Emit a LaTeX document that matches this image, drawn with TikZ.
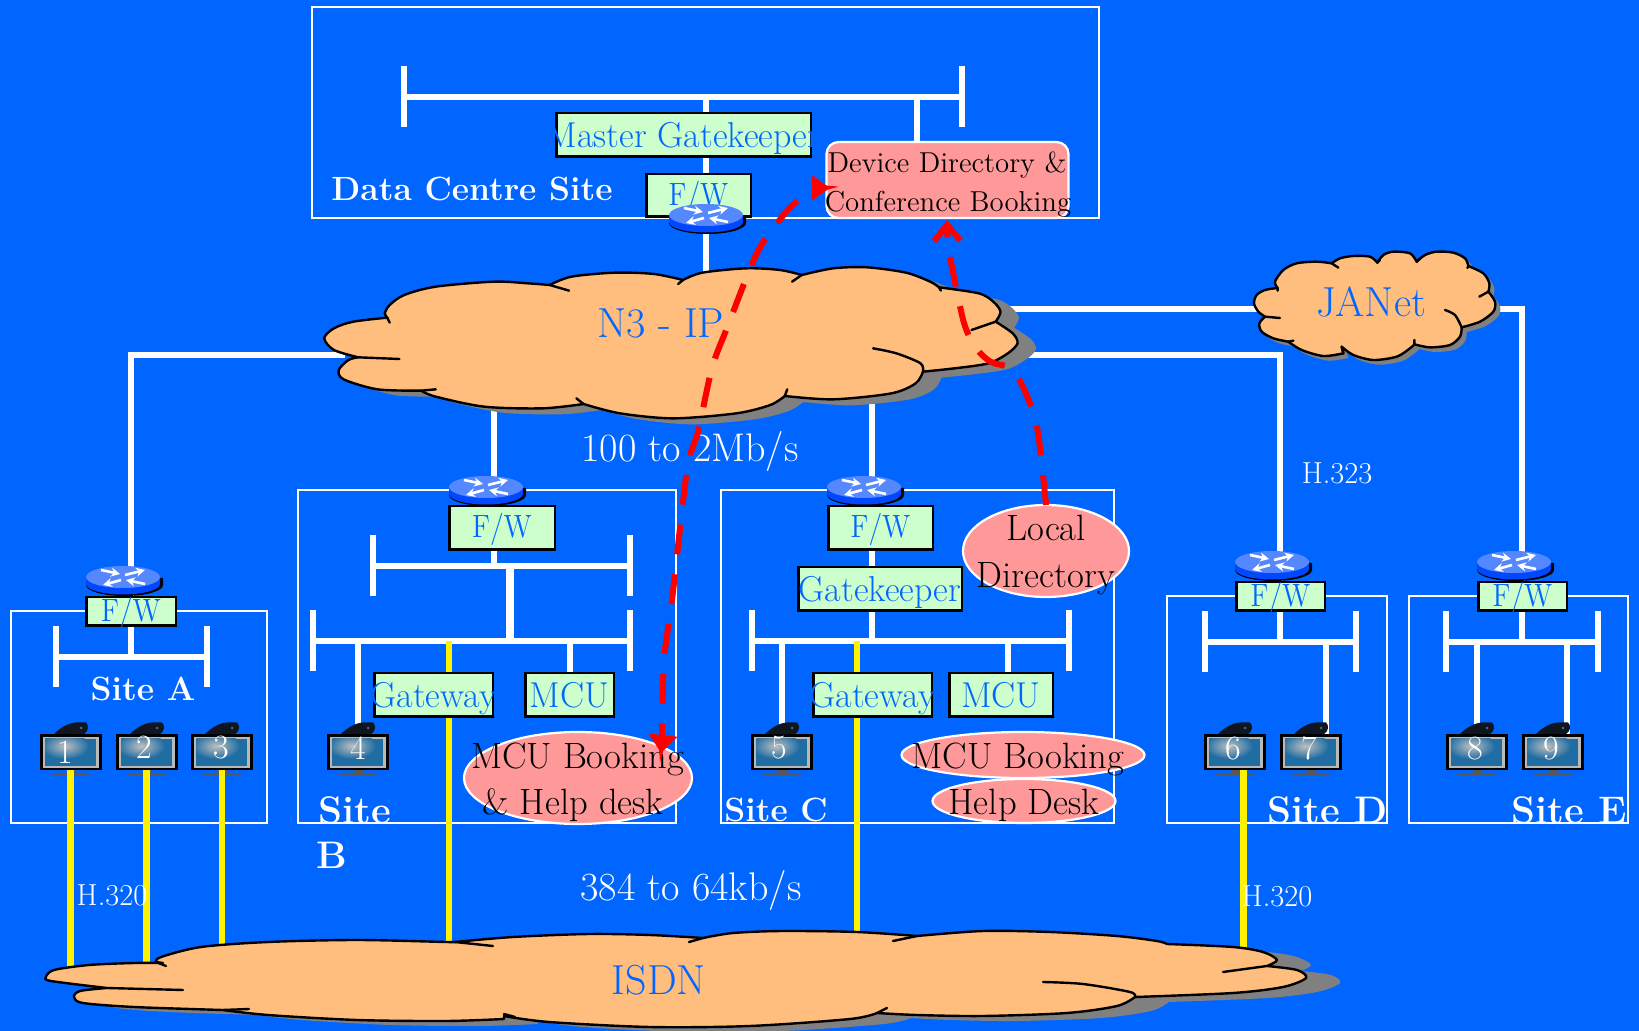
\documentclass[tikz,border=0pt]{standalone}
\usepackage{fontspec}
\usetikzlibrary{arrows.meta,shapes.geometric}
\pgfdeclarelayer{bg}
\pgfsetlayers{bg,main}
\definecolor{bgblue}{HTML}{0066FF}
\definecolor{boxgreen}{HTML}{CCFFCC}
\definecolor{pinkfill}{HTML}{FF9999}
\definecolor{cloudfill}{HTML}{FFBE7D}
\definecolor{shadowgray}{HTML}{808080}
\definecolor{rtop}{HTML}{5588FF}
\definecolor{rbody}{HTML}{0048FF}
\definecolor{screen}{HTML}{1F6DA3}
\definecolor{camdark}{HTML}{10161F}
\tikzset{
  frame/.style={draw=white,line width=1.15pt},
  wire/.style={draw=white,line width=3.3pt},
  yel/.style={draw=yellow,line width=3.5pt},
  greenbox/.style={draw=black,line width=1.25pt,fill=boxgreen,inner sep=0pt},
  pinkshape/.style={draw=white,line width=1.1pt,fill=pinkfill,inner sep=0pt},
  bluetext/.style={text=bgblue,inner sep=0pt,font=\fontsize{18}{21}\selectfont},
  fwtext/.style={text=bgblue,inner sep=0pt,font=\fontsize{14}{17}\selectfont},
  blacktext/.style={text=black,inner sep=0pt,font=\fontsize{18.3}{21}\selectfont},
  smalltext/.style={text=black,inner sep=0pt,font=\fontsize{14.4}{17}\selectfont},
  sitetext/.style={text=white,inner sep=0pt,font=\bfseries\fontsize{16.8}{20}\selectfont},
  bigsitetext/.style={text=white,inner sep=0pt,font=\bfseries\fontsize{19.2}{22}\selectfont},
  whitetext/.style={text=white,inner sep=0pt,font=\fontsize{20}{23}\selectfont},
  tinytext/.style={text=white,inner sep=0pt,font=\fontsize{15.2}{18}\selectfont},
  digittext/.style={text=white,inner sep=0pt,font=\fontsize{17}{20}\selectfont},
  cloudtext/.style={text=bgblue,inner sep=0pt,font=\fontsize{21}{25}\selectfont},
  cloudline/.style={draw=black,line width=1.2pt,line join=round,line cap=round},
  redpath/.style={draw=red,line width=3pt,dash pattern=on 15pt off 10pt},
}
\newcommand\ct[1]{\vphantom{H}\smash{#1}}
\newcommand\fwlabel{\scalebox{1}[1.15]{F/W}}
\newcommand\boxn[7][bluetext]{%
  \pgfmathsetmacro\bw{(#5-#3)/2-1.25}\pgfmathsetmacro\bh{(#6-#4)/2-1.25}%
  \node[greenbox,minimum width=\bw pt,minimum height=\bh pt] (#2) at ({(#3+#5)/2},{(#4+#6)/2}) {};%
  \node[#1] (#2t) at (#2) {\ct{#7}};}
\newcommand\busbar[4]{%
  \coordinate (#1) at (#2,#4);
  \begin{pgfonlayer}{bg}
  \draw[wire] (#2,#4) -- (#3,#4);
  \draw[wire] (#2,#4-30.5) -- (#2,#4+30.5);
  \draw[wire] (#3,#4-30.5) -- (#3,#4+30.5);
  \end{pgfonlayer}}
\newcommand\routerbody[3]{% name cx top
  \node[inner sep=0pt,minimum width=37pt,minimum height=14pt] (#1) at (#2,#3+14) {};
  \begin{scope}[shift={(#2,#3+11)}]
    \fill[black] (-37,1) -- (-37,8) arc[start angle=180,end angle=0,x radius=38.5,y radius=11] -- (40,1) -- cycle;
    \fill[rbody] (-37,0) -- (-37,7) arc[start angle=180,end angle=0,x radius=37,y radius=10.5] -- (37,0) -- cycle;
    \fill[rtop] (0,0) ellipse[x radius=37,y radius=11];
    \draw[white,line width=1.3pt,-{Stealth[length=4.5pt,width=4.5pt]}] (-22,-7) -- (-3,-3);
    \draw[white,line width=1.3pt,-{Stealth[length=4.5pt,width=4.5pt]}] (2,-2) -- (22,-7);
    \draw[white,line width=1.3pt,-{Stealth[length=4.5pt,width=4.5pt]}] (-2,3) -- (-20,8);
    \draw[white,line width=1.3pt,-{Stealth[length=4.5pt,width=4.5pt]}] (22,7) -- (3,3);
  \end{scope}}
\newcommand\monitorn[5]{% name left digitx digity digit
  \begin{scope}[shift={(#2,734)}]
    \fill[camdark] (14,0) .. controls (20,-6) and (28,-11) .. (36,-11.5) -- (46,-11.5) .. controls (49,-9) and (49,-3) .. (44,0) -- cycle;
    \fill[black!60!cyan] (41,-6) circle[radius=1.5];
    \fill[gray!70!black] (27,36) rectangle (36,40);
    \fill[gray!70!black] (31,40) ellipse[x radius=21,y radius=1.3];
    \fill[black] (0,0) rectangle (62,36);
    \fill[gray!55] (3,3) rectangle (59,33.5);
    \fill[screen] (5,4.5) rectangle (56,32);
    \begin{scope}
      \clip (5,4.5) rectangle (56,32);
      \shade[inner color=gray!50!white,outer color=screen] (25,12) ellipse[x radius=24,y radius=13];
    \end{scope}
    \node[inner sep=0pt,minimum width=31pt,minimum height=18pt] (#1) at (31,18) {};
  \end{scope}
  \node[digittext] (#1d) at (#3,#4) {\ct{#5}};}
\begin{document}
\begin{tikzpicture}[x=0.5pt,y=-0.5pt]
\useasboundingbox (0,0) rectangle (1639,1031);
\begin{pgfonlayer}{bg}
\fill[bgblue] (0,0) rectangle (1639,1031);
% site frames
\draw[frame] (312,7) rectangle (1099,218);
\draw[frame] (11,611) rectangle (267,823);
\draw[frame] (298,490) rectangle (676,823);
\draw[frame] (721,490) rectangle (1114,823);
\draw[frame] (1167,596) rectangle (1387,823);
\draw[frame] (1409,596) rectangle (1628,823);
\end{pgfonlayer}
% x positions of vertical wires
\coordinate (xA) at (131,0);
\coordinate (xB) at (494,0);
\coordinate (xBb) at (510,0);
\coordinate (xBc) at (358,0);
\coordinate (xBd) at (570,0);
\coordinate (xC) at (872,0);
\coordinate (xCc) at (782,0);
\coordinate (xCd) at (1008,0);
\coordinate (xD) at (1280,0);
\coordinate (xDd) at (1326,0);
\coordinate (xE) at (1522,0);
\coordinate (xEc) at (1477,0);
\coordinate (xEd) at (1567,0);
\coordinate (xM) at (706,0);
\coordinate (xMd) at (917,0);
\coordinate (n3w) at (345,355);
\coordinate (n3e) at (1000,355);
\coordinate (n3n) at (706,280);
\coordinate (n3s) at (494,400);
\coordinate (n3t) at (872,400);
\coordinate (n3j) at (1000,309);
\coordinate (janw) at (1270,309);
\coordinate (jane) at (1490,309);
\coordinate (isdnY) at (0,975);
% buses
\busbar{busM}{404}{962}{97}
\busbar{busA}{56}{207}{657}
\busbar{busB}{373}{630}{566}
\busbar{busBb}{313}{630}{641}
\busbar{busC}{752}{1069}{641}
\busbar{busD}{1205}{1356}{642}
\busbar{busE}{1446}{1598}{642}
% monitors
\monitorn{mon1}{40}{65}{752}{1}
\monitorn{mon2}{116}{144}{747}{2}
\monitorn{mon3}{191}{221}{747}{3}
\monitorn{mon4}{327}{358}{748}{4}
\monitorn{mon5}{751}{779}{747}{5}
\monitorn{mon6}{1204}{1233}{748}{6}
\monitorn{mon7}{1280}{1309}{748}{7}
\monitorn{mon8}{1446}{1475}{748}{8}
\monitorn{mon9}{1522}{1551}{748}{9}
% yellow ISDN lines
\coordinate (y1) at (70,770);
\coordinate (y2) at (146,770);
\coordinate (y3) at (222,770);
\coordinate (y4) at (449,641);
\coordinate (y5) at (857,641);
\coordinate (y6) at (1243,770);
\draw[yel] (y1) -- (y1 |- isdnY);
\draw[yel] (y2) -- (y2 |- isdnY);
\draw[yel,line width=2.8pt] (y3) -- (y3 |- isdnY);
\draw[yel,line width=3pt] (y4) -- (y4 |- isdnY);
\draw[yel,line width=3pt] (y5) -- (y5 |- isdnY);
\draw[yel] (y6) -- (y6 |- isdnY);
% routers below the firewalls
\routerbody{rtA}{123}{566}
\routerbody{rtB}{486}{476}
\routerbody{rtC}{864}{476}
\routerbody{rtD}{1272}{551}
\routerbody{rtE}{1514}{551}
% boxes
\boxn[fwtext]{fwA}{85}{596}{177}{627}{\fwlabel}
\boxn[fwtext]{fwB}{448}{505}{556}{551}{\fwlabel}
\boxn[fwtext]{fwC}{827}{505}{934}{551}{\fwlabel}
\boxn[fwtext]{fwD}{1235}{581}{1326}{612}{\fwlabel}
\boxn[fwtext]{fwE}{1477}{581}{1568}{612}{\fwlabel}
\boxn{gwB}{373}{672}{494}{718}{Gateway}
\boxn{mcuB}{524}{672}{615}{718}{MCU}
\boxn{gwC}{812}{672}{933}{718}{Gateway}
\boxn{mcuC}{948}{672}{1054}{718}{MCU}
\boxn{gkC}{797}{566}{963}{612}{Gatekeeper}
\boxn[fwtext]{fwM}{645}{173}{752}{218}{\fwlabel}
\node[greenbox,minimum width=127.25pt,minimum height=21.75pt] (mg) at (683.5,135) {};
\begin{scope}
  \clip (555,112) rectangle (812,158);
  \node[bluetext] (mgt) at (mg) {\ct{Master Gatekeeper}};
\end{scope}
\routerbody{rtM}{706}{204}
% pink shapes
\node[pinkshape,rounded corners=6pt,minimum width=121pt,minimum height=38pt] (dev) at (947.5,180) {};
\node[smalltext] (devA) at (947,163) {\ct{Device Directory \&}};
\node[smalltext] (devB) at (948,202) {\ct{Conference Booking}};
\node[pinkshape,ellipse,minimum width=83pt,minimum height=46pt] (loc) at (1046,551) {};
\node[blacktext] (locA) at (1046,528) {\ct{Local}};
\node[blacktext] (locB) at (1046,575) {\ct{Directory}};
\node[pinkshape,ellipse,minimum width=114pt,minimum height=46pt] (mbB) at (578,778) {};
\node[blacktext] (mbBa) at (577.5,756) {\ct{MCU Booking}};
\node[blacktext] (mbBb) at (573,802) {\ct{\& Help desk}};
\node[pinkshape,ellipse,minimum width=121.5pt,minimum height=23pt] (mbC) at (1023,755) {};
\node[pinkshape,ellipse,minimum width=91.5pt,minimum height=22pt] (hdC) at (1024,801) {};
\node[blacktext] (mbCa) at (1018,756) {\ct{MCU Booking}};
\node[blacktext] (hdCa) at (1024,802) {\ct{Help Desk}};
% wires
\begin{pgfonlayer}{bg}
\draw[wire] (n3w) -| (fwA.north -| xA);
\draw[wire] (fwA.south -| xA) -- (busA -| xA);
\draw[wire] (n3s) -- (fwB.north -| xB);
\draw[wire] (fwB.south -| xB) -- (busB -| xB);
\draw[wire,line width=3.8pt] (busB -| xBb) -- (busBb -| xBb);
\draw[wire] (busBb -| xBc) -- (mon4.north -| xBc);
\draw[wire] (busBb -| xBd) -- (mcuB.north -| xBd);
\draw[wire] (n3t) -- (fwC.north -| xC);
\draw[wire] (fwC.south -| xC) -- (gkC.north -| xC);
\draw[wire] (gkC.south -| xC) -- (busC -| xC);
\draw[wire] (busC -| xCc) -- (mon5.north -| xCc);
\draw[wire] (busC -| xCd) -- (mcuC.north -| xCd);
\draw[wire] (n3e) -| (fwD.north -| xD);
\draw[wire] (fwD.south -| xD) -- (busD -| xD);
\draw[wire] (busD -| xDd) -- (mon7.north -| xDd);
\draw[wire] (n3j) -- (janw);
\draw[wire] (jane) -| (fwE.north -| xE);
\draw[wire] (fwE.south -| xE) -- (busE -| xE);
\draw[wire] (busE -| xEc) -- (mon8.north -| xEc);
\draw[wire] (busE -| xEd) -- (mon9.north -| xEd);
\draw[wire] (busM -| xM) -- (n3n);
\draw[wire] (busM -| xMd) -- (dev.north -| xMd);
\end{pgfonlayer}
% text labels
\node[sitetext] (sA) at (143,689) {\ct{Site A}};
\node[bigsitetext] (sBa) at (355,810) {\ct{Site}};
\node[bigsitetext] (sBb) at (332,855) {\ct{B}};
\node[sitetext] (sC) at (776,810) {\ct{Site C}};
\node[bigsitetext] (sD) at (1327.5,810) {\ct{Site D}};
\node[bigsitetext] (sE) at (1569,810) {\ct{Site E}};
\node[sitetext] (sM) at (472,189) {\ct{Data Centre Site}};
\node[whitetext] (r1) at (690,448) {\ct{100 to 2Mb/s}};
\node[whitetext] (r2) at (691,887) {\ct{384 to 64kb/s}};
\node[tinytext] (h323) at (1337,473) {\ct{H.323}};
\node[tinytext] (h320a) at (112,895) {\ct{H.320}};
\node[tinytext] (h320b) at (1277,896) {\ct{H.320}};
% N3 cloud
\def\nthree{plot[smooth] coordinates {(120,322)(70,300)(50,265)(70,235)(110,215)(180,203)}
 -- plot[smooth] coordinates {(180,203)(175,190)(185,165)(215,135)(280,110)(400,95)(470,100)(515,105)}
 -- plot[smooth] coordinates {(515,105)(560,80)(650,68)(730,72)(790,90)}
 -- plot[smooth] coordinates {(790,90)(830,68)(920,55)(990,60)(1035,75)}
 -- plot[smooth] coordinates {(1035,75)(1100,55)(1170,52)(1250,68)(1300,95)(1318,112)}
 -- plot[smooth] coordinates {(1318,112)(1400,130)(1430,155)(1445,185)(1435,215)}
 -- plot[smooth] coordinates {(1435,215)(1470,250)(1480,280)(1460,310)(1420,340)(1350,355)(1285,365)}
 -- plot[smooth] coordinates {(1285,365)(1270,400)(1220,430)(1100,448)(1000,438)}
 -- plot[smooth] coordinates {(1000,438)(970,465)(900,490)(770,505)(660,490)(585,462)}
 -- plot[smooth] coordinates {(585,462)(500,475)(380,470)(280,440)(250,422)}
 -- plot[smooth] coordinates {(250,422)(160,418)(90,388)(80,360)(100,330)(120,322)} -- cycle}
\begin{scope}[shift={(300,250)},x=0.2424pt,y=-0.16667pt]
  \fill[shadowgray,shift={(38,18)}] \nthree;
  \fill[cloudfill] \nthree;
  \draw[cloudline] \nthree;
  \draw[cloudline] (180,203)--(185,218) (515,105)--(555,122) (790,90)--(780,102) (1035,75)--(1015,95) (1318,112)--(1322,122) (1435,215)--(1385,240) (1000,438)--(1005,418) (585,462)--(570,445) (250,422)--(280,418) (120,322)--(205,327);
  \draw[cloudline] plot[smooth] coordinates {(1285,365)(1280,340)(1230,310)(1182,295)};
\end{scope}
\node[cloudtext] (n3) at (661,323) {\ct{N3 - IP}};
% JANet cloud
\def\janet{plot[smooth] coordinates {(105,260)(85,245)(72,220)(80,195)(105,180)(143,174)}
 -- plot[smooth] coordinates {(143,174)(135,155)(160,120)(200,100)(260,95)(305,100)}
 -- plot[smooth] coordinates {(305,100)(330,85)(370,78)(420,80)(442,98)}
 -- plot[smooth] coordinates {(442,98)(460,75)(490,65)(540,70)(560,95)}
 -- plot[smooth] coordinates {(560,95)(585,75)(620,65)(670,68)(705,85)(715,108)}
 -- plot[smooth] coordinates {(715,108)(760,130)(778,160)(775,185)}
 -- plot[smooth] coordinates {(775,185)(795,215)(790,245)(750,275)(695,292)}
 -- plot[smooth] coordinates {(695,292)(690,320)(660,345)(600,352)(553,343)}
 -- plot[smooth] coordinates {(553,343)(540,355)(500,380)(430,390)(370,375)(335,350)}
 -- plot[smooth] coordinates {(340,370)(280,378)(215,360)(175,335)}
 -- plot[smooth] coordinates {(175,335)(130,325)(95,305)(88,280)(105,260)} -- cycle}
\begin{scope}[shift={(1230,230)},x=0.16667pt,y=-0.16667pt]
  \fill[shadowgray,shift={(15,14)}] \janet;
  \fill[cloudfill] \janet;
  \draw[cloudline] \janet;
  \draw[cloudline] (105,260)--(150,264) (143,182)--(143,174) (305,100)--(325,113) (442,98)--(450,90) (560,95)--(570,85) (715,108)--(712,114) (775,185)--(748,200) (553,343)--(553,330) (335,350)--(340,370) (175,335)--(190,332);
  \draw[cloudline] plot[smooth] coordinates {(695,292)(675,255)(645,240)};
\end{scope}
\node[cloudtext] (jan) at (1371,302) {\ct{JANet}};
% ISDN cloud
\def\isdn{plot[smooth] coordinates {(107,988)(51,981)(46,977)(54,970)(89,965)(134,963)(163,963)}
 -- plot[smooth] coordinates {(156,962)(161,957)(201,947)(268,942)(357,940)(446,942)(455,942)}
 -- plot[smooth] coordinates {(455,942)(513,937)(589,934)(650,935)(703,938)}
 -- plot[smooth] coordinates {(703,938)(733,933)(783,931)(857,932)(917,936)}
 -- plot[smooth] coordinates {(917,936)(983,931)(1050,932)(1117,936)(1157,941)(1167,944)}
 -- plot[smooth] coordinates {(1167,944)(1233,947)(1263,952)(1277,960)(1267,966)}
 -- plot[smooth] coordinates {(1267,966)(1297,970)(1306,978)(1283,987)(1233,993)(1135,997)}
 -- plot[smooth] coordinates {(1135,997)(1117,1006)(1067,1013)(983,1016)(917,1015)(877,1013)}
 -- plot[smooth] coordinates {(877,1013)(850,1019)(750,1026)(650,1027)(549,1022)(504,1016)}
 -- plot[smooth] coordinates {(504,1019)(446,1021)(357,1020)(268,1015)(223,1010)}
 -- plot[smooth] coordinates {(223,1010)(134,1007)(83,1003)(74,997)(80,991)(107,988)} -- cycle}
\fill[shadowgray,shift={(34,5)}] \isdn;
\fill[cloudfill] \isdn;
\draw[cloudline] \isdn;
\draw[cloudline] (156,962)--(166,966) (107,988)--(183,990) (223,1010)--(249,1009) (455,942)--(493,946) (703,938)--(689,942) (917,936)--(893,941) (877,1013)--(887,1008) (504,1014)--(515,1017);
\draw[cloudline] plot[smooth] coordinates {(1135,997)(1130,992)(1083,984)(1043,982)};
\draw[cloudline] plot[smooth] coordinates {(1267,966)(1223,972)};
\node[cloudtext] (isdnt) at (659,980) {\ct{ISDN}};
% red arrows
\coordinate (devL) at (830,188);
\coordinate (devS) at (947,220);
\coordinate (mbT) at (661,753);
\coordinate (locT) at (1046,505);
\draw[redpath,{Stealth[length=9pt,width=14pt,inset=0pt]}-{Stealth[length=9pt,width=12pt,inset=0pt]}] plot[smooth] coordinates {(mbT)(662,735)(664,660)(672,600)(687,470)(698,432)(712,368)(727,328)(757,253)(782,217)(795,203)(813,190)(devL)};
\draw[redpath,-{Straight Barb[length=8pt,width=13pt]}] plot[smooth] coordinates {(locT)(1037,427)(1023,387)(1010,368)(991,362)(976,348)(964,323)(952,267)(948,247)(devS)};
\end{tikzpicture}
\end{document}
